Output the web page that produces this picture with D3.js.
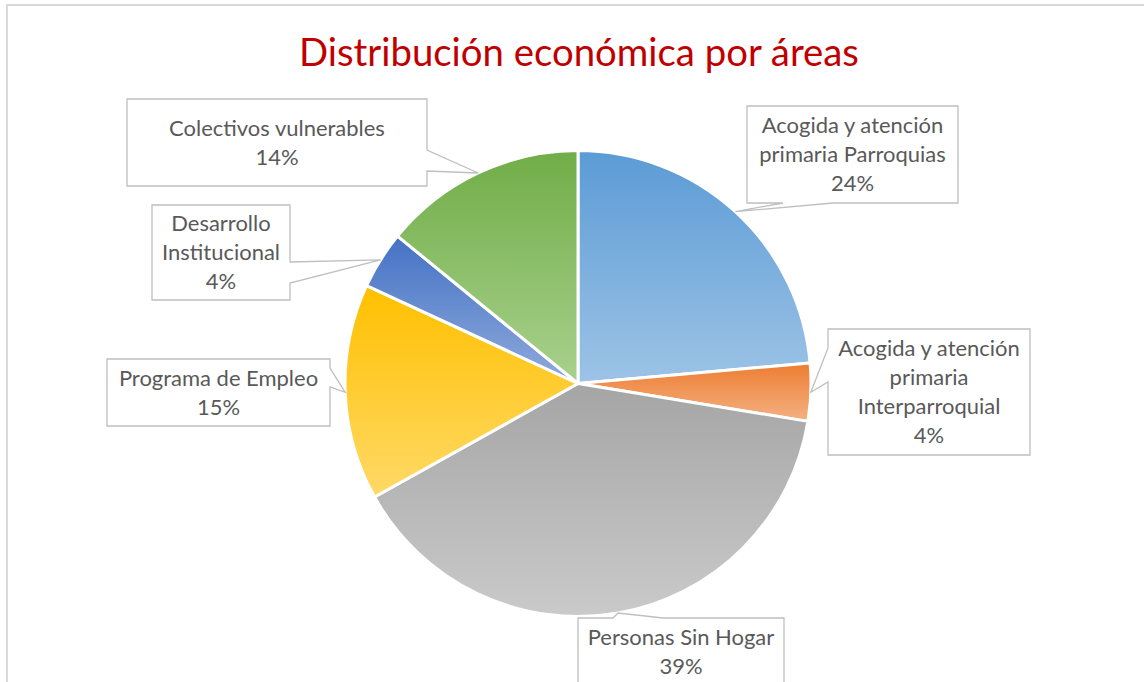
<!DOCTYPE html>
<html>
<head>
<meta charset="utf-8">
<script src="https://cdn.jsdelivr.net/npm/d3@7"></script>
<style>
  body { margin: 0; background: #fff; }
  svg { display: block; }
</style>
</head>
<body>
<div id="chart"></div>
<script>
// pie data, clockwise from 12 o'clock
const categories = [
  "Acogida y atención primaria Parroquias",
  "Acogida y atención primaria Interparroquial",
  "Personas Sin Hogar",
  "Programa de Empleo",
  "Desarrollo Institucional",
  "Colectivos vulnerables"
];
const values = [23.6, 4.0, 39.3, 15.0, 4.0, 14.1];
const labelLines = [
  ["Acogida y atención", "primaria Parroquias"],
  ["Acogida y atención", "primaria", "Interparroquial"],
  ["Personas Sin Hogar"],
  ["Programa de Empleo"],
  ["Desarrollo", "Institucional"],
  ["Colectivos vulnerables"]
];
const colors = ["#5b9bd5", "#ed7d31", "#a5a5a5", "#ffc000", "#4472c4", "#70ad47"];
const lightColors = ["#9dc3e6", "#f4b183", "#cacaca", "#ffd966", "#8faadc", "#a9d18e"];
const title = "Distribución económica por áreas";

const W = 1144, H = 682;
const cx = 578, cy = 383.5, r = 233;

// callout boxes (layout only): side where the pointer leaves, and its base span
const boxes = [
  { x: 747, y: 106, w: 211, h: 97, side: "bottom", b0: 783, b1: 833 },
  { x: 828, y: 329, w: 202, h: 126, side: "left", b0: 348, b1: 382 },
  { x: 578, y: 618, w: 206, h: 67, side: "top", b0: 613, b1: 663 },
  { x: 107, y: 359, w: 223, h: 67, side: "right", b0: 368, b1: 387 },
  { x: 152, y: 205, w: 138, h: 95, side: "right", b0: 262, b1: 283 },
  { x: 127, y: 99, w: 300, h: 87, side: "right", b0: 150, b1: 171 }
];

const data = categories.map((c, i) => ({ name: c, value: values[i], i }));
const total = d3.sum(values);

const svg = d3.select("#chart").append("svg")
  .attr("width", W).attr("height", H);

// gradients, one per slice colour (object bounding box, top dark -> bottom light)
const defs = svg.append("defs");
colors.forEach((c, i) => {
  const g = defs.append("linearGradient")
    .attr("id", "grad" + i)
    .attr("x1", 0).attr("y1", 0).attr("x2", 0).attr("y2", 1);
  g.append("stop").attr("offset", "0%").attr("stop-color", c);
  g.append("stop").attr("offset", "100%").attr("stop-color", lightColors[i]);
});

// chart frame
svg.append("rect")
  .attr("x", 7).attr("y", 5)
  .attr("width", W + 20).attr("height", H + 20)
  .attr("fill", "none")
  .attr("stroke", "#d9d9d9")
  .attr("stroke-width", 2);

// title, fitted to the reference width
const titleText = svg.append("text")
  .attr("x", 579).attr("y", 66)
  .attr("text-anchor", "middle")
  .attr("fill", "#c00000")
  .style("font-family", "Lato, 'Open Sans', sans-serif")
  .style("font-size", "40px")
  .text(title);
const tw = titleText.node().getComputedTextLength();
titleText.style("font-size", (40 * 560 / tw) + "px");

const pie = d3.pie().sort(null).value(d => d.value);
const arcs = pie(data);
const arc = d3.arc().innerRadius(0).outerRadius(r);

const gPie = svg.append("g").attr("transform", `translate(${cx},${cy})`);
gPie.selectAll("path")
  .data(arcs)
  .join("path")
  .attr("d", arc)
  .attr("fill", d => `url(#grad${d.data.i})`)
  .attr("stroke", "#fff")
  .attr("stroke-width", 3)
  .attr("stroke-linejoin", "round");

// callout shape: rectangle with a wedge pointing at the slice edge
function calloutPath(b, tip) {
  const x2 = b.x + b.w, y2 = b.y + b.h;
  const t = `${tip[0]},${tip[1]}`;
  let p = `M${b.x},${b.y}`;
  if (b.side === "top") p += `L${b.b0},${b.y}L${t}L${b.b1},${b.y}`;
  p += `L${x2},${b.y}`;
  if (b.side === "right") p += `L${x2},${b.b0}L${t}L${x2},${b.b1}`;
  p += `L${x2},${y2}`;
  if (b.side === "bottom") p += `L${b.b1},${y2}L${t}L${b.b0},${y2}`;
  p += `L${b.x},${y2}`;
  if (b.side === "left") p += `L${b.x},${b.b1}L${t}L${b.x},${b.b0}`;
  return p + "Z";
}

// measure label font so the longest single line matches the reference
const probe = svg.append("text")
  .style("font-family", "Lato, 'Open Sans', sans-serif")
  .style("font-size", "20px")
  .text("Colectivos vulnerables");
const labelSize = 20 * 216 / probe.node().getComputedTextLength();
probe.remove();
const lineH = 29;

const gLabels = svg.append("g");
arcs.forEach(a => {
  const b = boxes[a.data.i];
  const mid = (a.startAngle + a.endAngle) / 2;
  const tip = [cx + r * Math.sin(mid), cy - r * Math.cos(mid)];

  const g = gLabels.append("g");
  g.append("path")
    .attr("d", calloutPath(b, tip))
    .attr("fill", "#fff")
    .attr("stroke", "#bfbfbf")
    .attr("stroke-width", 1.3);

  const lines = labelLines[a.data.i].concat([Math.round(a.data.value / total * 100) + "%"]);
  const midY = b.y + b.h / 2;
  const txt = g.append("text")
    .attr("text-anchor", "middle")
    .attr("fill", "#595959")
    .style("font-family", "Lato, 'Open Sans', sans-serif")
    .style("font-size", labelSize + "px");
  lines.forEach((l, k) => {
    txt.append("tspan")
      .attr("x", b.x + b.w / 2)
      .attr("y", midY + (k - (lines.length - 1) / 2) * lineH)
      .attr("dy", "0.35em")
      .text(l);
  });
});
</script>
</body>
</html>
